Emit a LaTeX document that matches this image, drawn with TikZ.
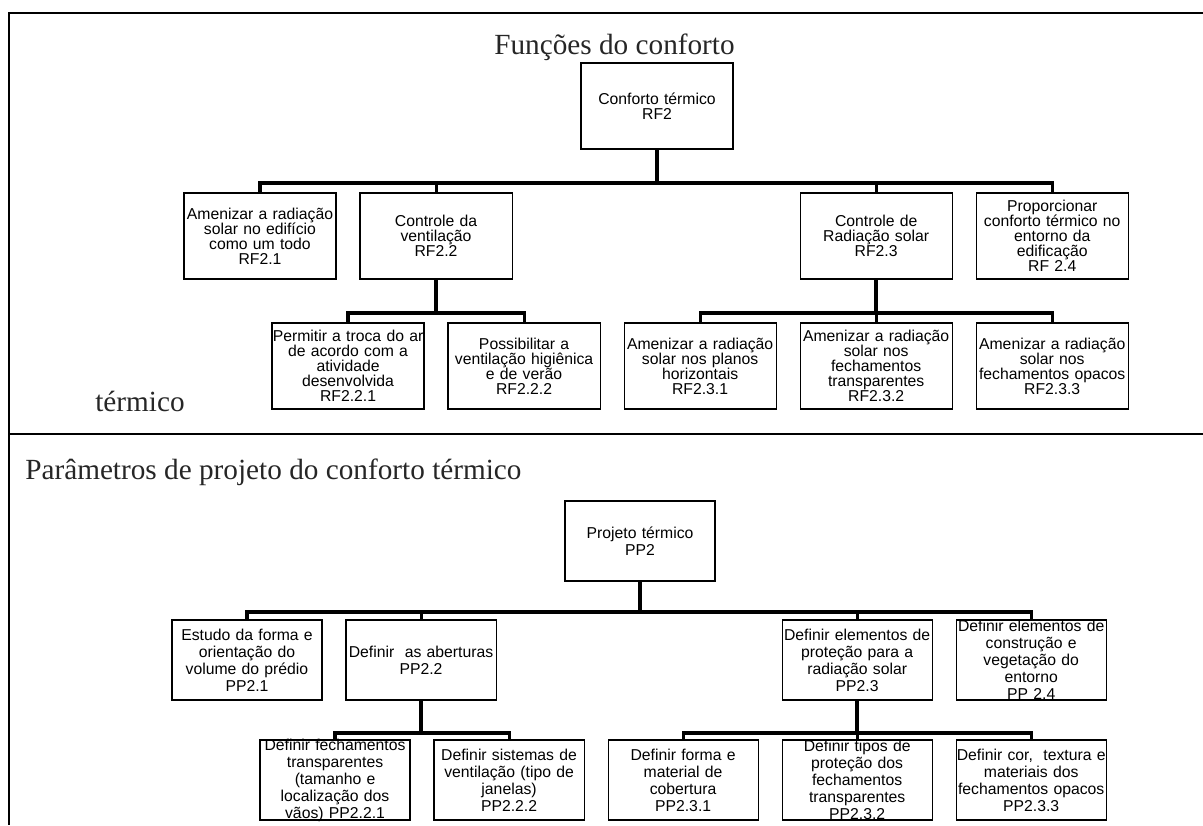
\documentclass[tikz,border=0pt]{standalone}
\usepackage{fontspec}
\setmainfont{Liberation Serif}
\setsansfont{Liberation Sans}
\usetikzlibrary{positioning}

\begin{document}
\begin{tikzpicture}[x=0.025cm,y=-0.025cm,
    rfbox/.style={rectangle,draw,line width=0.8pt,text width=3.95cm,align=center,
		minimum width=3.8cm,minimum height=2.15cm,inner xsep=-0.075cm,inner ysep=-4pt,
		font=\sffamily\fontsize{11.2}{10.7}\selectfont},
    ppbox/.style={rfbox,minimum width=3.75cm,inner xsep=-0.1cm,minimum height=2cm,
		font=\sffamily\fontsize{11.2}{12.1}\selectfont},
% Line styles
    bus/.style={line width=2.2pt},
    trunk/.style={line width=3pt},
    frame/.style={line width=2pt},
    heading/.style={anchor=base west,inner sep=0pt,text=black!85,
		font=\fontsize{20.8}{24}\selectfont}
    ]
   \useasboundingbox (0,0) rectangle (1203,825);
%%% Frame
   \draw[frame] (1203,13) -- (9,13) -- (9,825);
   \draw[frame] (9,434) -- (1203,434);
%%% Headings
   \node [heading] (tfun) at (494,54) {Funções do conforto};
   \node [heading] (tterm) at (95,411) {térmico};
   \node [heading] (tpar) at (25,479) {Parâmetros de projeto do conforto térmico};

%%% Functions tree
   \begin{scope}[node distance=4.4cm,on grid]
       \node [rfbox] (rf2) at (657,106) {Conforto térmico\\RF2};
       \node [rfbox] (rf21) at (260,236) {Amenizar a radiação\\solar no edifício\\como um todo\\RF2.1};
       \node [rfbox] (rf22) [right=of rf21] {Controle da\\ventilação\\RF2.2};
       \node [rfbox] (rf23) [right=11cm of rf22] {Controle de\\Radiação solar\\RF2.3};
       \node [rfbox] (rf24) [right=of rf23] {Proporcionar\\conforto térmico no\\entorno da\\edificação\\RF 2.4};
       \node [rfbox] (rf232) [below=3.25cm of rf23] {Amenizar a radiação\\solar nos\\fechamentos\\transparentes\\RF2.3.2};
       \node [rfbox] (rf231) [left=of rf232] {Amenizar a radiação\\solar nos planos\\horizontais\\RF2.3.1};
       \node [rfbox] (rf233) [right=of rf232] {Amenizar a radiação\\solar nos\\fechamentos opacos\\RF2.3.3};
       \node [rfbox] (rf222) [left=of rf231] {Possibilitar a\\ventilação higiênica\\e de verão\\RF2.2.2};
       \node [rfbox] (rf221) [left=of rf222] {Permitir a troca do ar\\de acordo com a\\atividade\\desenvolvida\\RF2.2.1};
       \coordinate (rfbus) at (657,183);
       \coordinate (rfsub) at (436,313);
       \draw[trunk] (rf2.south) -- (rfbus);
       \draw[bus] (rf21.north) |- (rfbus) -| (rf24.north);
       \draw[bus] (rf22.north) -- (rf22.north |- rfbus);
       \draw[bus] (rf23.north) -- (rf23.north |- rfbus);
       \draw[trunk] (rf22.south) -- (rf22.south |- rfsub);
       \draw[bus] (rf221.north) |- (rf22.south |- rfsub) -| (rf222.north);
       \draw[trunk] (rf23.south) -- (rf23.south |- rfsub);
       \draw[bus] (rf231.north) |- (rf23.south |- rfsub) -| (rf233.north);
       \draw[bus] (rf232.north) -- (rf232.north |- rfsub);
   \end{scope}

%%% Design parameters tree
   \begin{scope}[node distance=4.35cm,on grid]
       \node [ppbox] (pp2) at (640,541) {Projeto térmico\\PP2};
       \node [ppbox] (pp21) at (247,660) {Estudo da forma e\\orientação do\\volume do prédio\\PP2.1};
       \node [ppbox] (pp22) [right=of pp21] {Definir~ as aberturas\\PP2.2};
       \node [ppbox] (pp23) [right=10.9cm of pp22] {Definir elementos de\\proteção para a\\radiação solar\\PP2.3};
       \node [ppbox] (pp24) [right=of pp23] {Definir elementos de\\construção e\\vegetação do\\entorno\\PP 2.4};
       \node [ppbox] (pp232) [below=3cm of pp23] {Definir tipos de\\proteção dos\\fechamentos\\transparentes\\PP2.3.2};
       \node [ppbox] (pp231) [left=of pp232] {Definir forma e\\material de\\cobertura\\PP2.3.1};
       \node [ppbox] (pp233) [right=of pp232] {Definir cor,~ textura e\\materiais dos\\fechamentos opacos\\PP2.3.3};
       \node [ppbox] (pp222) [left=of pp231] {Definir sistemas de\\ventilação (tipo de\\janelas)\\PP2.2.2};
       \node [ppbox] (pp221) [left=of pp222] {Definir fechamentos\\transparentes\\(tamanho e\\localização dos\\vãos) PP2.2.1};
       \coordinate (ppbus) at (640,612);
       \coordinate (ppsub) at (422,733);
       \draw[trunk] (pp2.south) -- (ppbus);
       \draw[bus] (pp21.north) |- (ppbus) -| (pp24.north);
       \draw[bus] (pp22.north) -- (pp22.north |- ppbus);
       \draw[bus] (pp23.north) -- (pp23.north |- ppbus);
       \draw[trunk] (pp22.south) -- (pp22.south |- ppsub);
       \draw[bus] (pp221.north) |- (pp22.south |- ppsub) -| (pp222.north);
       \draw[trunk] (pp23.south) -- (pp23.south |- ppsub);
       \draw[bus] (pp231.north) |- (pp23.south |- ppsub) -| (pp233.north);
       \draw[bus] (pp232.north) -- (pp232.north |- ppsub);
   \end{scope}
\end{tikzpicture}
\end{document}
